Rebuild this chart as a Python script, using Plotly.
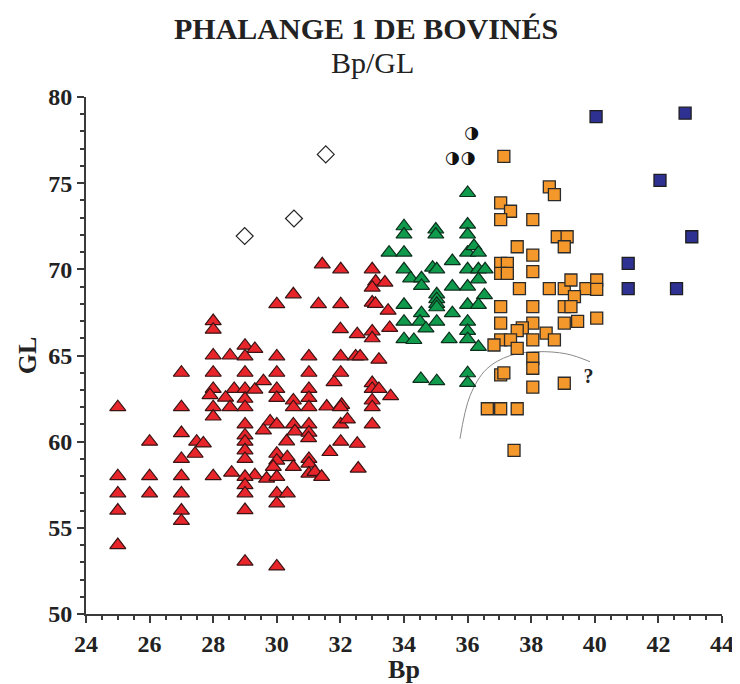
import plotly.graph_objects as go

# ---------------- data ----------------
red_bp = [25, 25, 25, 25, 25,
          26, 26, 26,
          27, 27, 27, 27, 27, 27, 27, 27,
          27.43, 27.48, 27.69,
          28, 28, 28, 28, 28.0, 27.9, 28, 28, 28,
          28.53, 28.66, 28.39, 28.53, 28.58,
          29, 29.31, 29, 29, 29, 29.31, 29, 29, 29, 29, 29, 29, 29, 29.31, 29, 29, 29, 29, 29,
          29.58, 29.79, 29.58, 29.68,
          30, 30.52, 30, 30, 30, 30, 30.52, 30.52, 30, 30.52, 30.57, 30.31, 30, 30.33, 30,
          29.89, 30.52, 30, 30, 30.33, 30, 30,
          31.43, 31.31, 31.01, 31.01, 31.01, 31.01, 31.01, 31.57, 31.01, 31.01, 31.0, 31.01,
          31.67, 31.01, 31.01, 31.2, 31.41, 31.8,
          32.01, 32.01, 32.0, 32.53, 32.01, 32.48, 32.62, 32.01, 32.04, 32.0, 32.01, 32.22,
          32.01, 32.53, 32.56,
          33, 33.11, 33, 33.4, 33, 33.1, 33.5, 33, 33, 33.55, 33.21, 33, 33, 33.21, 33, 33, 33,
          33.58]
red_gl = [62, 58, 57, 56, 54,
          60, 58, 57,
          64, 62, 60.5, 59, 58, 57, 56, 55.4,
          59.3, 60.0, 59.9,
          67, 66.5, 65, 64, 63.06, 62.7, 62, 61.46, 58,
          65, 63.06, 62.55, 62, 58.2,
          65.57, 65.38, 64.95, 64, 63.06, 63.02, 62.49, 62, 61, 60.36, 60, 59.5, 59, 58.05, 57.96,
          57.48, 57, 56.03, 53.04,
          63.51, 61.17, 60.65, 57.86,
          67.98, 68.55, 64.95, 64, 63.06, 62.54, 62.39, 62, 61, 61, 60.6, 60.02, 59.3, 59.1, 58.9,
          58.54, 58.54, 57.96, 57, 57, 56.42, 52.76,
          70.29, 67.98, 64.95, 64, 63.06, 62.54, 62, 62.04, 61, 60.52, 60.2, 59,
          59.4, 58.73, 58.15, 58.25, 57.96, 63.45,
          70, 67.98, 66.53, 66.24, 64.95, 64.95, 64.95, 64, 62.14, 62.0, 61, 61.29,
          60, 59.88, 58.44,
          70, 69.29, 68.94, 69.23, 68.07, 68, 67.6, 66.4, 66, 66.6, 64.76, 63.4, 63.06, 63.06, 62.39, 62, 61,
          62.64]

green_bp = [36, 34, 34, 35, 35, 36, 36, 33.53, 34, 36, 36.2, 36.34, 35.52, 34, 34.9, 35.03, 36,
            36.34, 36.55, 34.21, 34.55, 34.55, 36.34, 35.52, 36, 35.03, 35.03, 35.03, 35.03,
            36.53, 34, 34.55, 35.52, 36, 36.34, 34, 34.5, 35.03, 34.69, 36, 36, 36, 34, 34.31,
            35.42, 36.34, 34.53, 35.03, 36, 36]
green_gl = [74.43, 72.5, 72.02, 72.31, 72.02, 72.6, 72.02, 70.97, 70.97, 70.97, 71.35, 70.97,
            70.48, 70, 70.1, 70, 70, 70, 70, 69.48, 69.48, 69.04, 69.42, 69, 69, 68.55, 68.27,
            68.0, 67.8, 68.5, 67.94, 67.46, 67.46, 67.94, 67.94, 66.96, 66.96, 66.96, 66.57,
            66.96, 66.43, 65.95, 65.95, 65.9, 65.95, 65.5, 63.64, 63.51, 63.97, 63.41]

orange_bp = [37.14, 38.57, 38.73, 37.04, 37.35, 37.04, 38.05, 38.82, 39.13, 39.04, 37.56, 38.05,
             37.04, 37.25, 37.04, 37.25, 38.05, 37.63, 38.57, 39.04, 39.25, 39.72, 40.06, 40.06,
             39.36, 39.04, 39.25, 37.04, 38.05, 37.04, 38.05, 37.72, 39.04, 39.46, 40.06, 38.47,
             37.56, 38.73, 38.05, 37.04, 36.83, 37.35, 37.56, 38.05, 38.05, 37.04, 37.14, 38.05,
             39.04, 36.62, 37.04, 37.56, 37.46]
orange_gl = [76.55, 74.78, 74.34, 73.86, 73.37, 72.89, 72.89, 71.89, 71.89, 71.31, 71.31, 70.83,
             70.35, 70.35, 69.77, 69.77, 69.87, 68.88, 68.88, 68.88, 69.38, 68.88, 69.38, 68.84,
             68.42, 67.84, 67.84, 67.84, 67.84, 66.88, 66.88, 66.6, 66.88, 66.98, 67.17, 66.3,
             66.44, 65.91, 65.91, 65.91, 65.61, 65.91, 65.41, 64.83, 64.26, 63.87, 63.99, 63.16,
             63.39, 61.91, 61.91, 61.91, 59.5]

blue_bp = [40.04, 42.84, 42.05, 43.05, 41.05, 41.05, 42.57]
blue_gl = [78.86, 79.06, 75.16, 71.89, 70.35, 68.88, 68.88]

diamond_bp = [31.54, 30.54, 28.99]
diamond_gl = [76.67, 72.95, 71.93]

half_bp = [36.13, 35.52, 36.02]
half_gl = [77.86, 76.42, 76.42]

curve_bp = [35.76, 36.08, 36.6, 37.33, 38.17, 39.12, 39.85]
curve_gl = [60.17, 62.68, 64.22, 64.99, 65.22, 65.09, 64.64]

question_bp = [39.8]
question_gl = [63.7]

x_ticks = [24, 26, 28, 30, 32, 34, 36, 38, 40, 42, 44]
y_ticks = [50, 55, 60, 65, 70, 75, 80]

# ---------------- figure ----------------
SERIF = "Liberation Serif, Times New Roman, serif"
fig = go.Figure()

fig.add_trace(go.Scatter(x=curve_bp, y=curve_gl, mode="lines",
                         line=dict(color="#8a8a8a", width=1, shape="spline"),
                         hoverinfo="skip"))

def tri(xs, ys, color, outline):
    fig.add_trace(go.Scatter(x=xs, y=ys, mode="markers",
                             marker=dict(symbol="triangle-up", size=14, color=color,
                                         line=dict(color=outline, width=1.2))))

tri(red_bp, red_gl, "#e8252b", "#3a1414")
tri(green_bp, green_gl, "#0f9a4c", "#0c2f1c")

fig.add_trace(go.Scatter(x=orange_bp, y=orange_gl, mode="markers",
                         marker=dict(symbol="square", size=12, color="#f4982c",
                                     line=dict(color="#2b2b2b", width=1.3))))
fig.add_trace(go.Scatter(x=blue_bp, y=blue_gl, mode="markers",
                         marker=dict(symbol="square", size=12, color="#2e3192",
                                     line=dict(color="#1e1e1e", width=1.3))))
fig.add_trace(go.Scatter(x=diamond_bp, y=diamond_gl, mode="markers",
                         marker=dict(symbol="diamond", size=13, color="white",
                                     line=dict(color="#222", width=1.2))))
fig.add_trace(go.Scatter(x=half_bp, y=half_gl, mode="text", text=["◑"] * len(half_bp),
                         textposition="middle center",
                         textfont=dict(family="DejaVu Sans", size=17, color="#111")))
fig.add_trace(go.Scatter(x=question_bp, y=question_gl, mode="text", text=["?"],
                         textposition="middle center",
                         textfont=dict(family=SERIF, size=20, color="#222", weight="bold")))

axis_common = dict(showgrid=False, zeroline=False, showline=True, linecolor="#3a3a3a",
                   linewidth=2, ticks="outside", tickcolor="#3a3a3a", ticklen=7, tickwidth=1.5,
                   tickfont=dict(family=SERIF, size=24, color="#222", weight="bold"),
                   mirror=False)

fig.update_xaxes(range=[24, 44], tickvals=x_ticks, ticktext=[str(v) for v in x_ticks],
                 minor=dict(dtick=0.5, ticks="outside", ticklen=4, tickcolor="#3a3a3a"),
                 title=dict(text="<b>Bp</b>", font=dict(family=SERIF, size=26, color="#222"),
                            standoff=2),
                 **axis_common)
fig.update_yaxes(range=[50, 80], tickvals=y_ticks, ticktext=[str(v) for v in y_ticks],
                 minor=dict(dtick=1, ticks="outside", ticklen=4, tickcolor="#3a3a3a"),
                 title=dict(text="<b>GL</b>", font=dict(family=SERIF, size=26, color="#222"),
                            standoff=4),
                 **axis_common)

# The page adds an 8 px body margin, so the figure is 8 px smaller on each axis.
fig.update_layout(
    width=732, height=676,
    margin=dict(l=78, r=18, t=89, b=70, autoexpand=False),
    plot_bgcolor="white", paper_bgcolor="white",
    showlegend=False,
    annotations=[
        dict(text="<b>PHALANGE 1 DE BOVINÉS</b>", xref="paper", yref="paper",
             x=0.440, y=1.0, xanchor="center", yanchor="bottom", showarrow=False,
             yshift=50, font=dict(family=SERIF, size=30, color="#222")),
        dict(text="Bp/GL", xref="paper", yref="paper", x=0.450, y=1.0,
             xanchor="center", yanchor="bottom", showarrow=False, yshift=16,
             font=dict(family=SERIF, size=30, color="#222")),
    ],
)

fig.write_html("out.html")
